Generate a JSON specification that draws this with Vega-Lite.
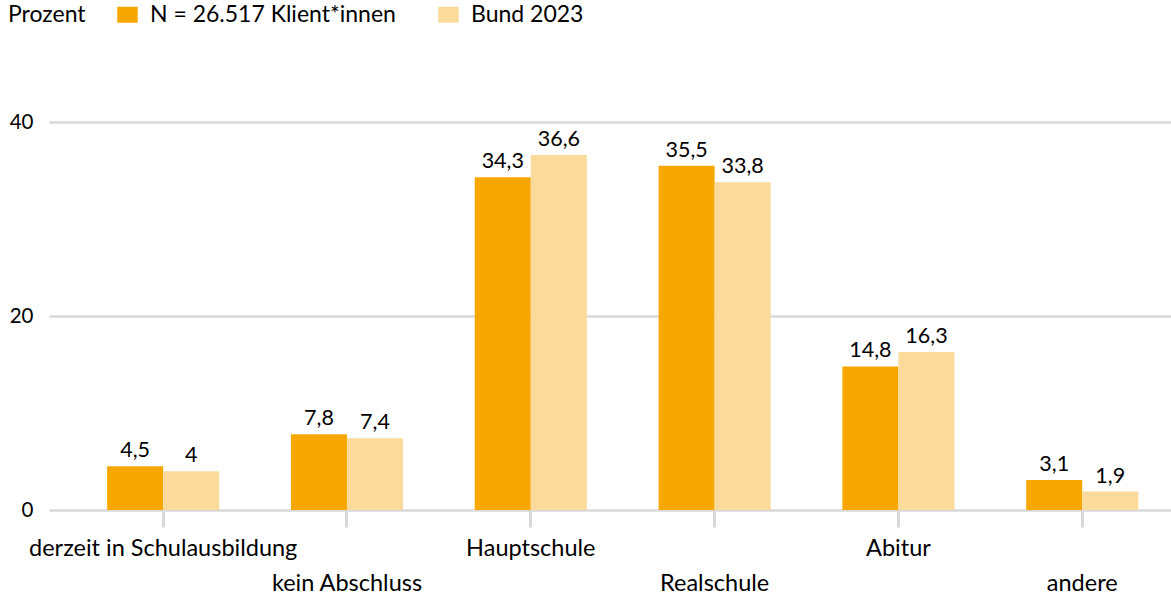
{
  "$schema": "https://vega.github.io/schema/vega-lite/v6.json",
  "autosize": "none",
  "width": 1122,
  "height": 388,
  "padding": {"left": 49, "top": 122, "right": 0, "bottom": 88},
  "background": "white",
  "config": {
    "font": "Lato",
    "view": {"stroke": null},
    "locale": {"number": {"decimal": ",", "thousands": ".", "grouping": [3], "currency": ["", " €"]}}
  },
  "data": {
    "values": [
      {"kategorie": "derzeit in Schulausbildung", "reihe": "N = 26.517 Klient*innen", "wert": 4.5},
      {"kategorie": "derzeit in Schulausbildung", "reihe": "Bund 2023", "wert": 4.0},
      {"kategorie": "kein Abschluss", "reihe": "N = 26.517 Klient*innen", "wert": 7.8},
      {"kategorie": "kein Abschluss", "reihe": "Bund 2023", "wert": 7.4},
      {"kategorie": "Hauptschule", "reihe": "N = 26.517 Klient*innen", "wert": 34.3},
      {"kategorie": "Hauptschule", "reihe": "Bund 2023", "wert": 36.6},
      {"kategorie": "Realschule", "reihe": "N = 26.517 Klient*innen", "wert": 35.5},
      {"kategorie": "Realschule", "reihe": "Bund 2023", "wert": 33.8},
      {"kategorie": "Abitur", "reihe": "N = 26.517 Klient*innen", "wert": 14.8},
      {"kategorie": "Abitur", "reihe": "Bund 2023", "wert": 16.3},
      {"kategorie": "andere", "reihe": "N = 26.517 Klient*innen", "wert": 3.1},
      {"kategorie": "andere", "reihe": "Bund 2023", "wert": 1.9}
    ]
  },
  "encoding": {
    "x": {
      "field": "kategorie", "type": "nominal", "sort": null,
      "scale": {"paddingInner": 0.39, "paddingOuter": 0.247, "align": 0.64},
      "axis": {
        "title": null, "labelAngle": 0, "labelFontSize": 23.5, "labelColor": "#000000",
        "labelPadding": 9, "labelOverlap": false, "labelBound": false, "labelFlush": false,
        "labelBaseline": "top", "labelLimit": 400, "labelLineHeight": 35,
        "labelExpr": "indexof(['kein Abschluss','Realschule','andere'], datum.label) >= 0 ? ['', datum.label] : datum.label",
        "domain": false, "ticks": true, "tickColor": "#D9D9D9", "tickWidth": 3, "tickSize": 17
      }
    },
    "xOffset": {"field": "reihe", "type": "nominal", "sort": ["N = 26.517 Klient*innen", "Bund 2023"], "scale": {"paddingInner": 0, "paddingOuter": 0}},
    "y": {
      "field": "wert", "type": "quantitative",
      "scale": {"domain": [0, 40], "nice": false},
      "axis": {
        "title": null, "values": [0, 20, 40], "labelFontSize": 20.5, "labelColor": "#000000",
        "labelPadding": 16, "domain": false, "ticks": false,
        "grid": true, "gridColor": "#D9D9D9", "gridWidth": 2.5
      }
    }
  },
  "layer": [
    {
      "mark": {"type": "bar"},
      "encoding": {
        "color": {
          "field": "reihe", "type": "nominal",
          "sort": ["N = 26.517 Klient*innen", "Bund 2023"],
          "scale": {"domain": ["N = 26.517 Klient*innen", "Bund 2023"], "range": ["#F7A800", "#FADB9B"]},
          "legend": {
            "title": "Prozent", "orient": "none", "legendX": -41, "legendY": -119,
            "direction": "horizontal", "titleOrient": "left", "titleFontSize": 23,
            "titleFontWeight": "normal", "titleColor": "#000000", "titlePadding": 30,
            "labelFontSize": 23, "labelColor": "#000000", "labelOffset": 11, "labelLimit": 400,
            "symbolType": "M-1,-0.78H1V0.78H-1Z", "symbolSize": 420, "symbolOpacity": 1, "symbolStrokeWidth": 0,
            "columnPadding": 41
          }
        }
      }
    },
    {
      "mark": {"type": "text", "baseline": "bottom", "dy": -4, "fontSize": 21.5, "color": "#000000"},
      "encoding": {
        "text": {"field": "wert", "type": "quantitative", "format": ".1~f"}
      }
    }
  ]
}
